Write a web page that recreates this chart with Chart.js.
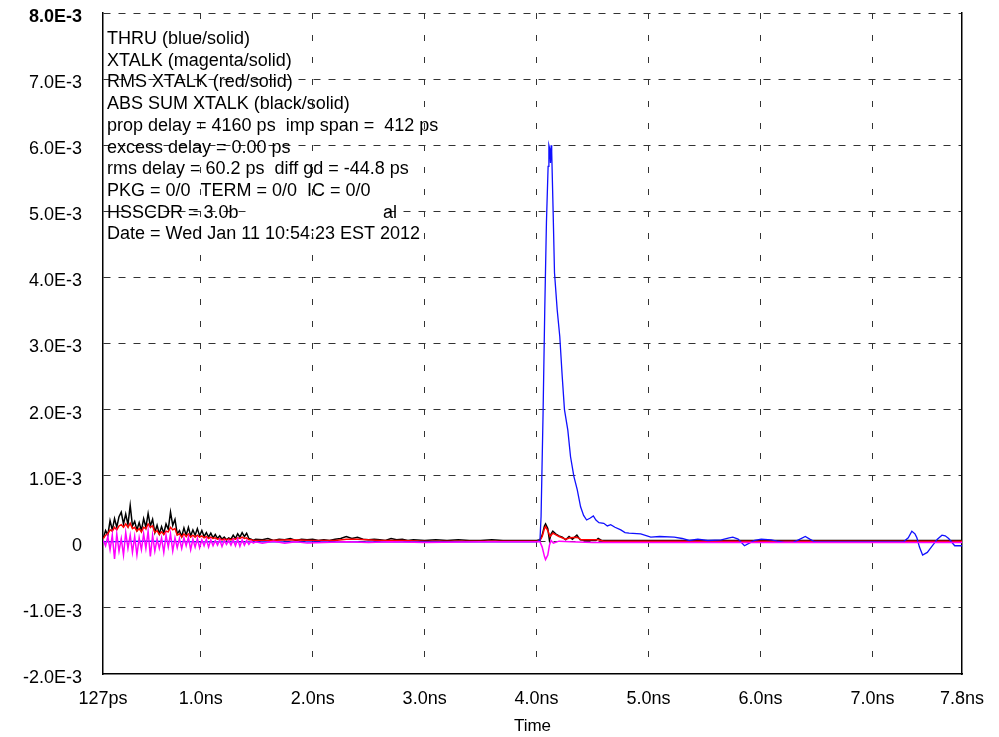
<!DOCTYPE html>
<html>
<head>
<meta charset="utf-8">
<script src="https://cdn.jsdelivr.net/npm/chart.js@4.4.1/dist/chart.umd.min.js"></script>
<style>
  html, body { margin: 0; padding: 0; background: #fff; }
  #graph { width: 999px; height: 737px; }
</style>
</head>
<body>
<div id="graph"><canvas id="grafico" width="999" height="737"></canvas></div>
<script>
// values are in units of 1E-3, time in ns
var xTicks = [0.127, 1, 2, 3, 4, 5, 6, 7, 7.8];
var yTicks = [-2, -1, 0, 1, 2, 3, 4, 5, 6, 7, 8];

var leyenda = [
  'THRU (blue/solid)',
  'XTALK (magenta/solid)',
  'RMS XTALK (red/solid)',
  'ABS SUM XTALK (black/solid)',
  'prop delay = 4160 ps  imp span =  412 ps',
  'excess delay = 0.00 ps',
  'rms delay = 60.2 ps  diff gd = -44.8 ps',
  'PKG = 0/0  TERM = 0/0  IC = 0/0',
  'HSSCDR = 3.0b',
  'Date = Wed Jan 11 10:54:23 EST 2012'
];

// early noisy part, shared time base
var noiseTime = [0.13,0.15,0.17,0.19,0.21,0.23,0.25,0.27,0.29,0.31,0.33,0.35,0.37,0.39,0.41,0.43,0.45,0.47,0.49,0.51,
  0.53,0.55,0.57,0.59,0.61,0.63,0.65,0.67,0.69,0.71,0.73,0.75,0.77,0.79,0.81,0.83,0.85,0.87,0.89,0.91,
  0.93,0.95,0.97,0.99,1.01,1.03,1.05,1.07,1.09,1.11,1.13,1.15,1.17,1.19,1.21,1.23,1.25,1.27,1.29,1.31,
  1.33,1.35,1.37,1.39,1.41,1.43,1.45,1.47,1.49];

var absNoise = [0.06,0.17,0.10,0.32,0.18,0.35,0.22,0.38,0.45,0.27,
  0.42,0.26,0.55,0.24,0.31,0.18,0.29,0.17,0.35,0.22,
  0.43,0.24,0.34,0.14,0.25,0.12,0.23,0.13,0.27,0.19,
  0.45,0.25,0.34,0.12,0.17,0.08,0.21,0.10,0.22,0.09,
  0.18,0.10,0.20,0.09,0.17,0.08,0.14,0.07,0.13,0.06,
  0.11,0.05,0.09,0.04,0.07,0.03,0.06,0.04,0.10,0.05,
  0.12,0.07,0.14,0.08,0.13,0.05,0.04,0.02,0.04];

var rmsNoise = [0.05,0.10,0.12,0.18,0.16,0.22,0.18,0.24,0.26,0.22,
  0.27,0.22,0.28,0.20,0.22,0.16,0.20,0.15,0.22,0.20,
  0.27,0.22,0.24,0.14,0.17,0.11,0.15,0.11,0.16,0.15,
  0.22,0.18,0.20,0.10,0.12,0.07,0.12,0.08,0.12,0.07,
  0.10,0.07,0.10,0.07,0.09,0.06,0.08,0.05,0.07,0.05,
  0.06,0.04,0.05,0.03,0.04,0.03,0.04,0.03,0.05,0.04,
  0.06,0.05,0.07,0.05,0.06,0.03,0.03,0.02,0.02];

var xtalkNoise = [0.02,-0.06,0.08,-0.12,0.10,-0.26,0.12,-0.14,0.05,-0.20,
  0.14,-0.10,0.10,-0.16,0.08,-0.20,0.06,-0.12,0.12,-0.10,
  0.16,-0.22,0.10,-0.14,0.04,-0.10,0.06,-0.16,0.10,-0.08,
  0.12,-0.14,0.06,-0.09,0.05,-0.10,0.06,-0.06,0.07,-0.12,
  0.04,-0.08,0.05,-0.09,0.03,-0.06,0.04,-0.08,0.03,-0.06,
  0.02,-0.05,0.03,-0.07,0.02,-0.04,0.02,-0.05,0.03,-0.06,
  0.04,-0.07,0.03,-0.05,0.02,-0.04,0.01,-0.02,0.00];

// rest of each trace
var absTime = [1.55,1.60,1.65,1.70,1.75,1.80,1.85,1.90,1.95,2.00,2.05,2.10,2.15,2.20,2.25,2.30,2.35,2.40,2.45,2.50,
  2.55,2.60,2.65,2.70,2.75,2.80,2.85,2.90,3.00,3.10,3.20,3.30,3.40,3.50,3.60,3.70,3.80,3.90,4.00,
  4.03,4.05,4.07,4.08,4.10,4.115,4.13,4.145,4.17,4.20,4.23,4.26,4.29,4.32,4.36,4.39,4.45,4.53,4.55,4.58,
  5.00,5.50,6.00,6.50,7.00,7.50,7.80];
var absVal = [0.03,0.05,0.02,0.04,0.03,0.05,0.02,0.04,0.03,0.04,0.02,0.03,0.02,0.04,0.05,0.08,0.05,0.07,0.04,0.03,
  0.04,0.03,0.02,0.05,0.03,0.04,0.02,0.03,0.02,0.03,0.02,0.03,0.02,0.02,0.03,0.02,0.02,0.02,0.02,
  0.03,0.10,0.24,0.27,0.20,0.02,0.12,0.16,0.12,0.09,0.07,0.03,0.08,0.04,0.10,0.03,0.02,0.02,0.05,0.02,
  0.02,0.02,0.02,0.02,0.02,0.02,0.02];

var rmsTime = [1.6,1.8,2.0,2.2,2.3,2.4,2.6,2.8,3.0,3.5,4.0,4.03,4.05,4.07,4.08,4.10,4.12,4.145,4.20,4.26,
  4.30,4.36,4.40,4.55,4.60,5.0,6.0,7.0,7.8];
var rmsVal = [0.02,0.03,0.02,0.02,0.04,0.04,0.02,0.02,0.01,0.01,0.01,0.02,0.08,0.20,0.23,0.17,0.08,0.13,0.08,0.04,
  0.06,0.07,0.03,0.03,0.01,0.01,0.01,0.01,0.01];

var xtalkTime = [1.55,1.65,1.75,1.85,1.95,2.1,2.3,2.5,2.7,3.0,3.5,4.0,4.03,4.05,4.07,4.08,4.10,4.115,4.13,4.15,
  4.2,4.3,4.5,5.0,6.0,7.0,7.8];
var xtalkVal = [-0.02,0.01,-0.02,0.0,-0.02,-0.01,0.0,-0.01,0.0,-0.01,0.0,0.0,0.0,-0.08,-0.22,-0.27,-0.20,-0.05,0.02,-0.02,
  0.01,0.0,-0.01,-0.01,-0.01,-0.01,-0.01];

var thruTime = [0.127,0.5,1.0,2.0,3.0,4.0,4.03,4.04,4.058,4.073,4.088,4.103,4.11,4.117,4.124,4.13,4.135,4.148,4.16,4.184,
  4.207,4.229,4.249,4.279,4.303,4.333,4.363,4.393,4.42,4.447,4.48,4.507,4.53,4.557,4.60,4.632,4.662,4.70,4.752,4.79,
  4.826,4.93,5.02,5.10,5.23,5.30,5.364,5.44,5.53,5.65,5.72,5.753,5.80,5.857,5.90,5.947,6.007,6.096,6.15,6.216,
  6.29,6.34,6.40,6.44,6.485,6.665,6.964,7.278,7.32,7.352,7.38,7.397,7.42,7.448,7.49,7.531,7.58,7.621,7.65,7.681,
  7.735,7.786,7.80];
var thruVal = [0.0,0.01,0.0,0.0,0.0,0.0,0.02,0.38,1.95,3.51,4.83,5.68,6.0,5.95,5.73,6.0,5.9,4.98,4.07,3.51,
  3.11,2.50,2.0,1.69,1.29,0.99,0.79,0.53,0.40,0.33,0.36,0.39,0.33,0.29,0.28,0.24,0.26,0.22,0.18,0.14,
  0.13,0.12,0.07,0.08,0.07,0.05,0.02,0.04,0.02,0.03,0.06,0.07,0.04,-0.06,-0.02,0.02,0.04,0.03,0.01,-0.01,
  -0.01,0.03,0.08,0.04,0.0,0.0,0.0,0.0,0.06,0.16,0.12,0.06,-0.08,-0.20,-0.16,-0.07,0.04,0.10,0.09,0.05,
  -0.06,-0.06,-0.06];

var fuente = '"Liberation Sans", Arial, sans-serif';

function puntos(tiempos, valores) {
  var lista = [];
  for (var i = 0; i < tiempos.length; i++) {
    lista.push({x: tiempos[i], y: valores[i]});
  }
  return lista;
}

function serie(nombre, color, datos, orden, ancho) {
  return {
    label: nombre,
    data: datos,
    borderColor: color,
    borderWidth: ancho,
    pointRadius: 0,
    tension: 0,
    fill: false,
    order: orden
  };
}

var notas = {
  id: 'notas',
  beforeDatasetsDraw: function(chart) {
    var ctx = chart.ctx;
    var area = chart.chartArea;
    var x0 = area.left + 4;
    var y0 = area.top + 31;
    ctx.save();
    // blank patch on the HSSCDR line
    ctx.fillStyle = '#fff';
    ctx.fillRect(area.left + 143, y0 + 8 * 21.7 - 15, 137, 20);
    ctx.fillStyle = '#000';
    ctx.font = '18px ' + fuente;
    ctx.textBaseline = 'alphabetic';
    ctx.textAlign = 'left';
    for (var i = 0; i < leyenda.length; i++) {
      ctx.fillText(leyenda[i], x0, y0 + i * 21.7);
    }
    ctx.fillText('al', area.left + 280, y0 + 8 * 21.7);
    ctx.restore();
  }
};

var datasets = [
  serie('XTALK', '#ff00ff', puntos(noiseTime, xtalkNoise).concat(puntos(xtalkTime, xtalkVal)), 0, 1.5),
  serie('THRU', '#1010ff', puntos(thruTime, thruVal), 1, 1.3),
  serie('RMS XTALK', '#ff0000', puntos(noiseTime, rmsNoise).concat(puntos(rmsTime, rmsVal)), 2, 1.5),
  serie('ABS SUM XTALK', '#000000', puntos(noiseTime, absNoise).concat(puntos(absTime, absVal)), 3, 1.5)
];

var contexto = document.getElementById('grafico').getContext('2d');
var chart = new Chart(contexto, {
  type: 'line',
  data: { datasets: datasets },
  plugins: [notas],
  options: {
    responsive: false,
    animation: false,
    devicePixelRatio: 1,
    layout: { padding: { top: 13, right: 37, bottom: 0, left: 0 } },
    plugins: { legend: { display: false }, tooltip: { enabled: false } },
    scales: {
      x: {
        type: 'linear',
        min: 0.127,
        max: 7.8,
        afterBuildTicks: function(scale) {
          scale.ticks = xTicks.map(function(v) { return {value: v}; });
        },
        afterFit: function(scale) { scale.height = 63; },
        grid: {
          drawTicks: false,
          lineWidth: 1,
          color: function(c) {
            return (c.index === 0 || c.index === xTicks.length - 1) ? 'rgba(0,0,0,0)' : '#333';
          }
        },
        border: { display: true, color: '#000', width: 1.5, dash: [6, 16] },
        ticks: {
          color: '#000',
          padding: 14,
          maxRotation: 0,
          font: { family: fuente, size: 18 },
          callback: function(v) {
            if (v === 0.127) return '127ps';
            return v.toFixed(1) + 'ns';
          }
        },
        title: {
          display: true,
          text: 'Time',
          color: '#000',
          font: { family: fuente, size: 17 },
          padding: { top: 0, bottom: 0 }
        }
      },
      y: {
        min: -2,
        max: 8,
        afterBuildTicks: function(scale) {
          scale.ticks = yTicks.map(function(v) { return {value: v}; });
        },
        afterFit: function(scale) {
          scale.width = 103;
          scale.paddingTop = 0;
          scale.paddingBottom = 0;
        },
        grid: {
          drawTicks: false,
          lineWidth: 1,
          color: function(c) { return c.index === 0 ? 'rgba(0,0,0,0)' : '#333'; }
        },
        border: { display: true, color: '#000', width: 1.5, dash: [7, 8] },
        ticks: {
          color: '#000',
          padding: 21,
          labelOffset: 4,
          font: function(c) {
            return { family: fuente, size: 18, weight: (c.tick && c.tick.value === 8) ? 'bold' : 'normal' };
          },
          callback: function(v) {
            if (v === 0) return '0';
            return v.toFixed(1) + 'E-3';
          }
        }
      },
      y2: {
        position: 'right',
        min: -2,
        max: 8,
        afterFit: function(scale) {
          scale.width = 0;
          scale.paddingTop = 0;
          scale.paddingBottom = 0;
        },
        grid: { display: false, drawTicks: false },
        ticks: { display: false },
        border: { display: true, color: '#000', width: 1.5 }
      }
    }
  }
});
</script>
</body>
</html>
